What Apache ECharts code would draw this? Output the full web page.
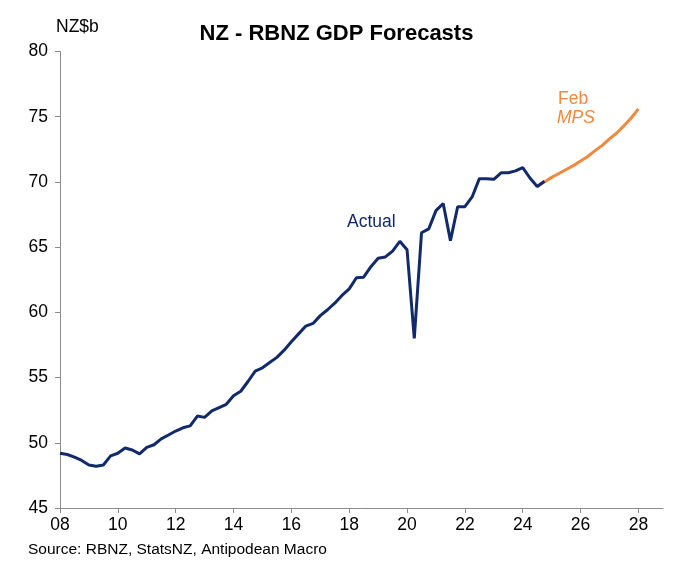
<!DOCTYPE html>
<html>
<head>
<meta charset="utf-8">
<script src="https://cdn.jsdelivr.net/npm/echarts@6/dist/echarts.min.js"></script>
<style>
html,body{margin:0;padding:0;background:#fff;}
#chart{width:673px;height:568px;}
</style>
</head>
<body>
<div id="chart"></div>
<script>
// Quarterly data, first actual quarter = 2008 Q1
const startYear = 2008;
const actualValues = [
  49.2, 49.1, 48.9, 48.65, 48.3, 48.2, 48.3, 49.0,
  49.2, 49.6, 49.45, 49.15, 49.65, 49.85, 50.3, 50.6,
  50.9, 51.15, 51.3, 52.05, 51.95, 52.45, 52.7, 52.95,
  53.6, 53.95, 54.7, 55.5, 55.75, 56.15, 56.55, 57.1,
  57.75, 58.35, 58.95, 59.15, 59.75, 60.2, 60.7, 61.3,
  61.8, 62.65, 62.7, 63.5, 64.15, 64.25, 64.7, 65.45,
  64.8, 58.0, 66.1, 66.4, 67.8, 68.35, 65.5, 68.1,
  68.1, 68.85, 70.25, 70.25, 70.2, 70.7, 70.7, 70.85,
  71.1, 70.3, 69.65, 70.05
];
// Feb MPS forecast, first quarter = 2024 Q3
const forecastStartYear = 2024.5;
const forecastValues = [
  69.65, 70.0, 70.35, 70.65, 70.95, 71.25, 71.6, 71.95,
  72.4, 72.8, 73.3, 73.75, 74.3, 74.9, 75.6
];
const xTicks = [2008, 2010, 2012, 2014, 2016, 2018, 2020, 2022, 2024, 2026, 2028];
const yTicks = [45, 50, 55, 60, 65, 70, 75, 80];

const NAVY = '#102a6b';
const ORANGE = '#f0883e';
const FONT = '"Liberation Sans", Arial, sans-serif';

const actualData = actualValues.map((v, i) => [startYear + i / 4, v]);
const forecastData = forecastValues.map((v, i) => [forecastStartYear + i / 4, v]);

const chart = echarts.init(document.getElementById('chart'), null, {renderer: 'canvas'});
chart.setOption({
  animation: false,
  backgroundColor: '#ffffff',
  textStyle: {fontFamily: FONT},
  title: {
    text: 'NZ - RBNZ GDP Forecasts',
    left: 'center',
    top: 18,
    textStyle: {fontFamily: FONT, fontSize: 22, fontWeight: 'bold', color: '#000'}
  },
  grid: {left: 60, right: 10, top: 51.5, bottom: 60},
  xAxis: {
    type: 'value',
    min: 2008,
    max: 2028.85,
    interval: 2,
    axisLine: {show: true, lineStyle: {color: '#8c8c8c', width: 1}},
    axisTick: {show: true, length: 5, inside: false, customValues: xTicks, lineStyle: {color: '#8c8c8c'}},
    axisLabel: {
      customValues: xTicks,
      margin: 8,
      fontSize: 17.5,
      color: '#000',
      fontFamily: FONT,
      formatter: v => String(Math.round(v) % 100).padStart(2, '0')
    },
    splitLine: {show: false}
  },
  yAxis: {
    type: 'value',
    min: 45,
    max: 80,
    interval: 5,
    axisLine: {show: true, lineStyle: {color: '#8c8c8c', width: 1}},
    axisTick: {show: true, length: 5, inside: false, lineStyle: {color: '#8c8c8c'}},
    axisLabel: {
      customValues: yTicks,
      margin: 12,
      fontSize: 17.5,
      color: '#000',
      fontFamily: FONT
    },
    splitLine: {show: false}
  },
  series: [
    {
      name: 'Feb MPS',
      type: 'line',
      data: forecastData,
      showSymbol: false,
      lineStyle: {color: ORANGE, width: 3},
      itemStyle: {color: ORANGE},
      z: 2
    },
    {
      name: 'Actual',
      type: 'line',
      data: actualData,
      showSymbol: false,
      lineStyle: {color: NAVY, width: 3},
      itemStyle: {color: NAVY},
      z: 3
    }
  ],
  graphic: [
    {type: 'text', left: 56, top: 18, style: {text: 'NZ$b', fontSize: 17.5, fill: '#000', fontFamily: FONT}},
    {type: 'text', left: 347, top: 213, style: {text: 'Actual', fontSize: 17.5, fill: NAVY, fontFamily: FONT}},
    {type: 'text', left: 558, top: 90, style: {text: 'Feb', fontSize: 17.5, fill: ORANGE, fontFamily: FONT}},
    {type: 'text', left: 557, top: 109, style: {text: 'MPS', fontSize: 17.5, fontStyle: 'italic', fill: ORANGE, fontFamily: FONT}},
    {type: 'text', left: 28, top: 542, style: {text: 'Source: RBNZ, StatsNZ, Antipodean Macro', fontSize: 15.5, fill: '#000', fontFamily: FONT}}
  ]
});
</script>
</body>
</html>
